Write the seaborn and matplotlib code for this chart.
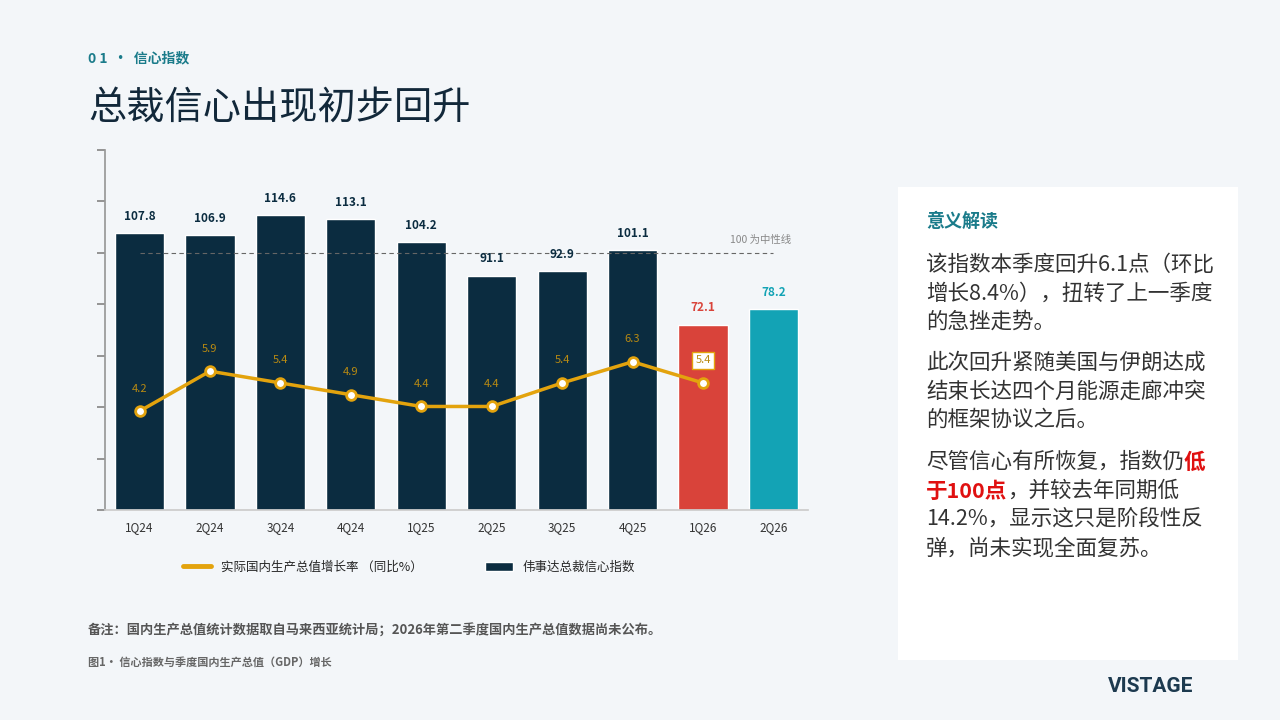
import numpy as np
import pandas as pd
import seaborn as sns
from matplotlib import pyplot as plt
from matplotlib.lines import Line2D
from matplotlib.patches import Patch, Rectangle
from matplotlib.text import Annotation

# Chart data
quarters = ['1Q24', '2Q24', '3Q24', '4Q24', '1Q25', '2Q25', '3Q25', '4Q25', '1Q26', '2Q26']
index_vals = [107.8, 106.9, 114.6, 113.1, 104.2, 91.1, 92.9, 101.1, 72.1, 78.2]
gdp_quarters = ['1Q24', '2Q24', '3Q24', '4Q24', '1Q25', '2Q25', '3Q25', '4Q25', '1Q26']
gdp_vals = [4.2, 5.9, 5.4, 4.9, 4.4, 4.4, 5.4, 6.3, 5.4]
bar_colors = ['#0b2c40'] * 8 + ['#d9433a', '#13a3b5']
label_colors = ['#0b2c40'] * 8 + ['#d9433a', '#13a3b5']

BG = '#f3f6f9'
GOLD = '#e3a30d'
GOLD_TXT = '#b88a12'
NAVY = '#0b2c40'

sns.set_theme(style='white')
plt.rcParams['font.family'] = ['Noto Sans CJK SC', 'DejaVu Sans']

fig = plt.figure(figsize=(12.8, 7.2), dpi=100, facecolor=BG)
ax = fig.add_axes([105 / 1280, 210 / 720, 703 / 1280, 360 / 720])
ax.set_facecolor(BG)

df = pd.DataFrame({'quarter': quarters, 'value': index_vals})
sns.barplot(data=df, x='quarter', y='value', hue='quarter', palette=bar_colors,
            legend=False, width=0.7, saturation=1, ax=ax)
ax.set_ylim(0, 140)
ax.set_xlim(-0.49, 9.49)
ax.set_yticks(np.arange(0, 141, 20))
ax.set_yticklabels([])
ax.tick_params(axis='y', length=6, color='#888888', direction='out', left=True)
ax.tick_params(axis='x', length=0, labelsize=8.5, labelcolor='#333333', pad=8)
ax.set_xlabel('')
ax.set_ylabel('')
for s in ['top', 'right']:
    ax.spines[s].set_visible(False)
ax.spines['left'].set_color('#999999')
ax.spines['bottom'].set_color('#cccccc')

for i, v in enumerate(index_vals):
    ax.text(i, v + 4, f'{v}', ha='center', va='bottom', fontsize=8.5,
            fontweight='bold', color=label_colors[i])

ax.plot([0, 9], [100, 100], ls=(0, (4, 3)), color='#666666', lw=0.8)
ax.text(9.25, 103, '100 为中性线', ha='right', va='bottom', fontsize=7.5,
        style='italic', color='#888888')

ax2 = ax.twinx()
ax2.set_ylim(0, 15.3)
ax2.axis('off')
gdf = pd.DataFrame({'quarter': gdp_quarters, 'gdp': gdp_vals,
                    'pos': np.arange(len(gdp_quarters))})
sns.lineplot(data=gdf, x='pos', y='gdp', color=GOLD, lw=2.5, marker='o',
             markersize=7, markerfacecolor='white', markeredgecolor=GOLD,
             markeredgewidth=2, ax=ax2)
ax2.set_xlim(-0.49, 9.49)
for i, v in enumerate(gdp_vals):
    if i == len(gdp_vals) - 1:
        ax2.text(i, v + 0.75, f'{v}', ha='center', va='bottom', fontsize=8,
                 color=GOLD_TXT,
                 bbox=dict(boxstyle='square,pad=0.3', fc='white', ec=GOLD, lw=1))
    else:
        ax2.text(i, v + 0.75, f'{v}', ha='center', va='bottom', fontsize=8,
                 color=GOLD_TXT)

handles = [Line2D([0], [0], color=GOLD, lw=3.5),
           Patch(facecolor=NAVY)]
fig.legend(handles, ['实际国内生产总值增长率 （同比%）', '伟事达总裁信心指数'],
           loc='center left', bbox_to_anchor=(172 / 1280, 1 - 567 / 720),
           ncol=2, frameon=False, fontsize=9, columnspacing=5, handlelength=2.2)

# Header
fig.text(88 / 1280, 1 - 58 / 720, '0 1  ·  信心指数', fontsize=10, fontweight='bold',
         color='#1a7b8a', va='center')
fig.text(88 / 1280, 1 - 108 / 720, '总裁信心出现初步回升', fontsize=27.5,
         color='#12283a', va='center')

# Footer
fig.text(88 / 1280, 1 - 631 / 720,
         '备注：国内生产总值统计数据取自马来西亚统计局；2026年第二季度国内生产总值数据尚未公布。',
         fontsize=9.5, fontweight='bold', color='#555555', va='center')
fig.text(88 / 1280, 1 - 662 / 720, '图1· 信心指数与季度国内生产总值（GDP）增长',
         fontsize=8, fontweight='bold', color='#666666', va='center')
fig.text(1193 / 1280, 1 - 686 / 720, 'VISTAGE', fontsize=15, fontweight='bold',
         color='#1d3a4f', ha='right', va='center', family=['Roboto', 'DejaVu Sans'])

# Right panel
fig.patches.append(Rectangle((898 / 1280, 1 - 660 / 720), 340 / 1280, 473 / 720,
                             transform=fig.transFigure, fc='white', ec='none',
                             zorder=-1))
fig.text(926 / 1280, 1 - 221 / 720, '意义解读', fontsize=13, fontweight='bold',
         color='#1a7b8a', va='center')

lines = [
    (265, [('该指数本季度回升6.1点（环比', '#333333', 'normal')]),
    (294, [('增长8.4%），扭转了上一季度', '#333333', 'normal')]),
    (322, [('的急挫走势。', '#333333', 'normal')]),
    (363, [('此次回升紧随美国与伊朗达成', '#333333', 'normal')]),
    (392, [('结束长达四个月能源走廊冲突', '#333333', 'normal')]),
    (420, [('的框架协议之后。', '#333333', 'normal')]),
    (462, [('尽管信心有所恢复，指数仍', '#333333', 'normal'), ('低', '#e01010', 'bold')]),
    (491, [('于100点', '#e01010', 'bold'), ('，并较去年同期低', '#333333', 'normal')]),
    (519, [('14.2%，显示这只是阶段性反', '#333333', 'normal')]),
    (548, [('弹，尚未实现全面复苏。', '#333333', 'normal')]),
]
for y, segs in lines:
    last = None
    for txt, col, wt in segs:
        if last is None:
            last = fig.text(926 / 1280, 1 - y / 720, txt, fontsize=15.5, color=col,
                            fontweight=wt, va='center')
        else:
            ann = Annotation(txt, xy=(1, 0.5), xycoords=last, fontsize=15.5,
                             color=col, fontweight=wt, va='center', ha='left')
            fig.add_artist(ann)
            last = ann

fig.savefig('out.png', dpi=100, facecolor=BG)
